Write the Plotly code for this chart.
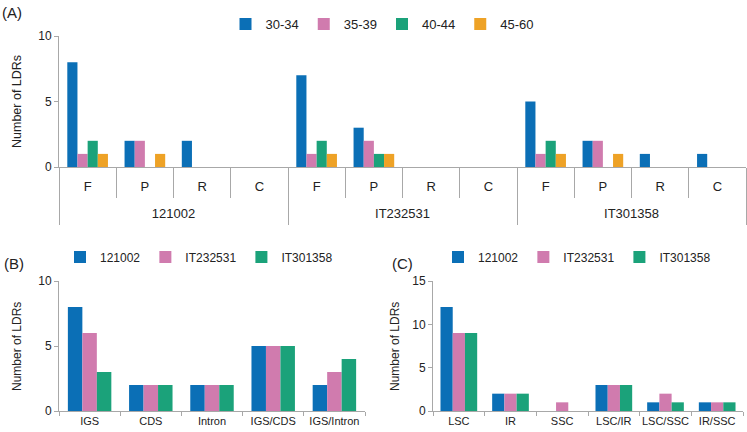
import plotly.graph_objects as go

# ---------------- data ----------------
age_classes = ["30-34", "35-39", "40-44", "45-60"]
accessions = ["121002", "IT232531", "IT301358"]
lineages = ["F", "P", "R", "C"]

# panel A values: for each age class, values per accession x lineage (F,P,R,C)
a_30_34 = [8, 2, 2, 0, 7, 3, 0, 0, 5, 2, 1, 1]
a_35_39 = [1, 2, 0, 0, 1, 2, 0, 0, 1, 2, 0, 0]
a_40_44 = [2, 0, 0, 0, 2, 1, 0, 0, 2, 0, 0, 0]
a_45_60 = [1, 1, 0, 0, 1, 1, 0, 0, 1, 1, 0, 0]

regions_b = ["IGS", "CDS", "Intron", "IGS/CDS", "IGS/Intron"]
b_121002 = [8, 2, 2, 5, 2]
b_IT232531 = [6, 2, 2, 5, 3]
b_IT301358 = [3, 2, 2, 5, 4]

regions_c = ["LSC", "IR", "SSC", "LSC/IR", "LSC/SSC", "IR/SSC"]
c_121002 = [12, 2, 0, 3, 1, 1]
c_IT232531 = [9, 2, 1, 3, 2, 1]
c_IT301358 = [9, 2, 0, 3, 1, 1]

colors = ["#0b6fb6", "#d07bae", "#1ba27a", "#eea226"]
FONT = "Liberation Sans, Arial, sans-serif"
TXT = "#222222"
AX = "#a8a8a8"

W, H = 747, 432
def px(x):
    return x / W
def py(y):
    return 1 - y / H

fig = go.Figure()

# category keys for panel A (accession + lineage); labels shown are the lineages
keys_a = [f"{g} {l}" for g in accessions for l in lineages]
inner_labels = [l for _ in accessions for l in lineages]

for name, vals, col in zip(age_classes, [a_30_34, a_35_39, a_40_44, a_45_60], colors):
    fig.add_trace(go.Bar(x=keys_a, y=vals, name=name, marker_color=col,
                         marker_line_width=0, xaxis="x", yaxis="y", legend="legend"))

# empty helper trace so that the accession-level axis of panel A is drawn
fig.add_trace(go.Scatter(x=[], y=[], xaxis="x4", yaxis="y", showlegend=False,
                         hoverinfo="skip"))

for name, vals, col in zip(accessions, [b_121002, b_IT232531, b_IT301358], colors):
    fig.add_trace(go.Bar(x=regions_b, y=vals, name=name, marker_color=col,
                         marker_line_width=0, xaxis="x2", yaxis="y2", legend="legend2"))

for name, vals, col in zip(accessions, [c_121002, c_IT232531, c_IT301358], colors):
    fig.add_trace(go.Bar(x=regions_c, y=vals, name=name, marker_color=col,
                         marker_line_width=0, xaxis="x3", yaxis="y3", legend="legend3"))

yax_common = dict(showline=True, linecolor=AX, ticks="outside", ticklen=4, tickcolor=AX,
                  showgrid=False, zeroline=False, tickfont=dict(size=12, color=TXT))

n_groups = len(accessions)
fig.update_layout(
    width=W, height=H,
    margin=dict(l=0, r=0, t=0, b=0, autoexpand=False),
    paper_bgcolor="white", plot_bgcolor="rgba(0,0,0,0)",
    font=dict(family=FONT, color=TXT),
    barmode="group", bargap=0.29, bargroupgap=0,
    xaxis=dict(domain=[px(59), px(746)], anchor="y", type="category",
               tickmode="array", tickvals=keys_a, ticktext=inner_labels,
               showline=True, linecolor=AX, ticks="outside", tickson="boundaries",
               ticklen=30, tickcolor=AX, tickfont=dict(size=13, color=TXT),
               ticklabelstandoff=7, showgrid=False),
    # group (accession) level of panel A's category axis
    xaxis4=dict(overlaying="x", anchor="y", side="bottom", type="linear",
                range=[0, n_groups], tickmode="array",
                tickvals=[i + 0.5 for i in range(n_groups)], ticktext=accessions,
                ticks="", showline=False, showgrid=False, zeroline=False,
                tickfont=dict(size=13, color=TXT), ticklabelstandoff=37,
                minor=dict(tickmode="array", tickvals=list(range(n_groups + 1)),
                           ticks="outside", ticklen=57, tickcolor=AX, showgrid=False)),
    yaxis=dict(domain=[py(167), py(36)], anchor="x", range=[0, 10], dtick=5, **yax_common),
    xaxis2=dict(domain=[px(59), px(365)], anchor="y2", showline=True, linecolor=AX,
                ticks="outside", tickson="boundaries", ticklen=4, tickcolor=AX,
                tickangle=0, tickfont=dict(size=11, color=TXT), showgrid=False),
    yaxis2=dict(domain=[py(411), py(281)], anchor="x2", range=[0, 10], dtick=5, **yax_common),
    xaxis3=dict(domain=[px(433), px(743)], anchor="y3", showline=True, linecolor=AX,
                ticks="outside", tickson="boundaries", ticklen=4, tickcolor=AX,
                tickangle=0, tickfont=dict(size=11, color=TXT), showgrid=False),
    yaxis3=dict(domain=[py(411), py(281)], anchor="x3", range=[0, 15], dtick=5, **yax_common),
    legend=dict(orientation="h", x=px(382), xanchor="center", y=py(24), yanchor="middle",
                font=dict(size=13, color=TXT), bgcolor="rgba(0,0,0,0)"),
    legend2=dict(orientation="h", x=px(199), xanchor="center", y=py(257), yanchor="middle",
                 font=dict(size=12, color=TXT), bgcolor="rgba(0,0,0,0)"),
    legend3=dict(orientation="h", x=px(577), xanchor="center", y=py(257), yanchor="middle",
                 font=dict(size=12, color=TXT), bgcolor="rgba(0,0,0,0)"),
)

annots = [
    dict(text="(A)", x=px(0), y=py(13), xanchor="left", yanchor="middle", font=dict(size=15)),
    dict(text="(B)", x=px(2), y=py(263), xanchor="left", yanchor="middle", font=dict(size=15)),
    dict(text="(C)", x=px(390), y=py(263), xanchor="left", yanchor="middle", font=dict(size=15)),
    dict(text="Number of LDRs", x=px(17), y=py(102), textangle=-90, xanchor="center",
         yanchor="middle", font=dict(size=12.5)),
    dict(text="Number of LDRs", x=px(17), y=py(347), textangle=-90, xanchor="center",
         yanchor="middle", font=dict(size=12)),
    dict(text="Number of LDRs", x=px(395), y=py(347), textangle=-90, xanchor="center",
         yanchor="middle", font=dict(size=12)),
]
for a in annots:
    fig.add_annotation(xref="paper", yref="paper", showarrow=False, **a)

# remove the browser's default 8px page margin so the figure fills the window exactly
fig.write_html("out.html", config={"displayModeBar": False},
               post_script="document.body.style.margin='0';")
